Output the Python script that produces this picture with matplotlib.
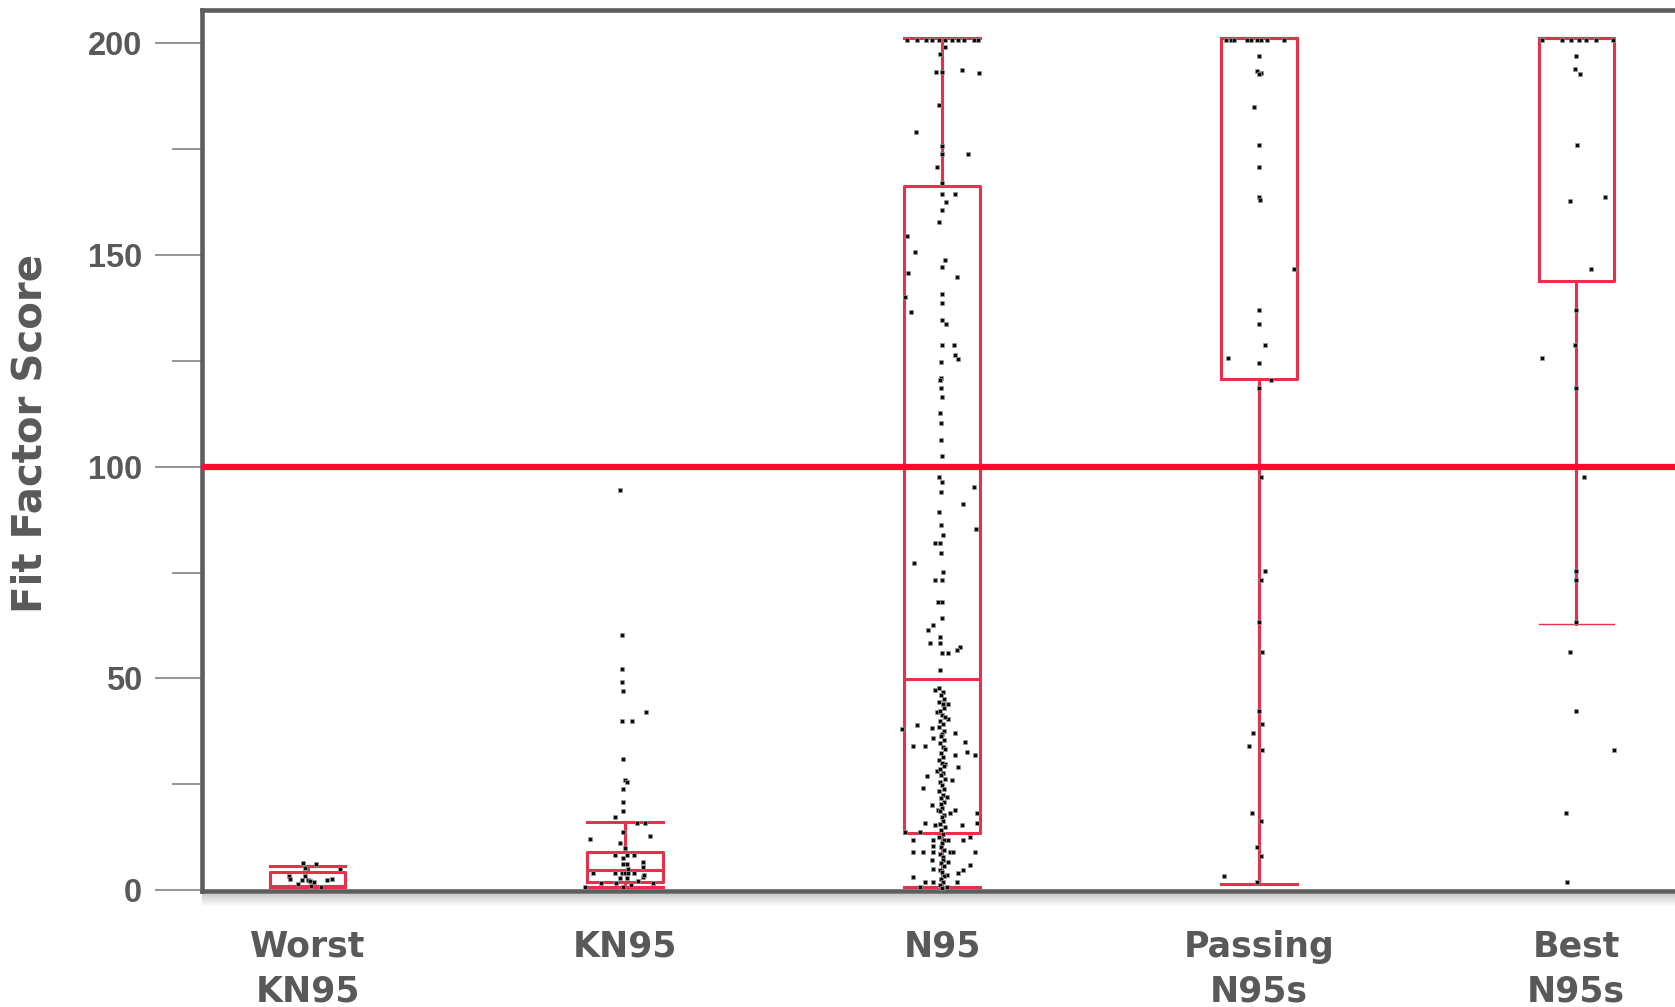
import matplotlib
matplotlib.use("Agg")
import matplotlib.pyplot as plt
from matplotlib.patches import Rectangle

# ---------------- data ----------------
categories = ["Worst\nKN95", "KN95", "N95", "Passing\nN95s", "Best\nN95s"]

y_major_ticks = [0, 50, 100, 150, 200]
y_minor_ticks = [25, 75, 125, 175]
pass_threshold = 100

# box statistics (whislo, q1, med, q3, whishi)
box_whislo = [0.6, 0.7, 0.7, 1.4, 62.8]
box_q1 = [0.8, 2.0, 13.5, 120.6, 143.8]
box_med = [1.0, 4.7, 49.8, 201.3, 201.3]
box_q3 = [4.3, 9.0, 166.2, 201.3, 201.3]
box_whishi = [5.7, 16.1, 201.3, 201.3, 201.3]

# individual fit-factor scores and their horizontal jitter (category units)
worst_vals = [6.3, 6.2, 5.1, 4.9, 3.4, 3.2, 2.5, 2.4, 2.3, 2.1, 1.9, 1.4, 1.0, 0.8, 2.4, 2.5]
worst_off = [-0.015, 0.025, -0.01, 0.10, -0.06, -0.01, -0.055, -0.02, 0.0, 0.006, 0.02, -0.03, 0.01, 0.04, 0.06, 0.075]

kn95_vals = [94.5, 60.2, 52.2, 49.1, 47.0, 42.0, 39.9, 39.9, 30.9, 26.0, 25.6, 23.8, 20.8, 18.7,
             17.2, 15.8, 15.8, 13.7, 12.8, 12.0, 11.1, 8.3, 8.3, 8.3, 7.6, 6.6, 6.1, 6.1, 5.5,
             4.1, 4.0, 4.0, 4.0, 4.0, 4.0, 3.1, 2.8, 2.8, 1.6, 1.6, 1.6, 0.7, 0.7, 1.2, 2.2,
             5.0, 9.8, 3.5]
kn95_off = [-0.016, -0.01, -0.01, -0.01, -0.005, 0.066, -0.01, 0.022, -0.005, 0.0, 0.005, -0.005,
            -0.005, -0.005, -0.03, 0.038, 0.063, -0.005, 0.08, -0.11, -0.016, -0.03, 0.005, 0.027,
            -0.005, 0.057, -0.005, 0.005, 0.057, -0.10, -0.03, -0.01, 0.0, 0.01, 0.027, 0.057,
            -0.016, 0.005, -0.074, -0.027, 0.09, -0.127, -0.005, 0.02, 0.04, 0.01, 0.0, 0.06]

n95_vals = [
    200.8, 200.8, 200.8, 200.8, 200.8, 200.8, 200.8, 200.8, 200.8, 200.8, 200.8,
    199.1, 197.6, 193.2, 193.2, 193.8, 192.9, 185.4, 179.0, 175.7, 173.8, 173.8, 170.8,
    166.9, 164.5, 164.5, 162.5, 160.6, 157.8, 154.6, 150.6, 148.8, 147.2, 145.7, 144.8,
    140.7, 140.1, 138.6, 136.6, 134.6, 133.6, 128.7, 128.7, 126.3, 125.4, 124.7, 120.9,
    120.4, 118.5, 116.4, 112.6, 110.3, 106.3, 102.5, 97.6, 96.4, 95.2, 94.1, 91.3, 89.3,
    86.2, 85.2, 83.8, 81.9, 81.9, 79.5, 77.3, 75.2, 73.2, 73.2, 68.1, 68.1, 64.2, 62.6,
    61.4, 59.8, 58.3, 58.3, 57.4, 56.6, 56.0, 56.0, 51.9,
    38.0, 39.0, 38.3, 37.1, 35.9, 35.0, 34.0, 34.0, 32.6, 31.9, 31.9, 29.1, 26.9, 26.0,
    24.1, 20.1, 18.9, 18.2, 18.2, 15.8, 15.8, 15.3, 15.3, 13.7, 13.7, 11.8, 11.8, 11.8,
    11.8, 12.6, 9.0, 9.0, 9.0, 9.0, 9.0, 9.0, 7.1, 5.9, 4.7, 4.0, 3.1, 1.9, 1.9, 1.9,
    10.5, 6.5, 5.0, 3.5, 0.8, 0.8, 47.2, 44.0, 42.0, 40.5, 29.8, 28.0, 22.0, 19.0,
    47.6, 46.8, 46.1, 45.2, 44.5, 43.9, 43.0, 42.3, 41.4, 40.8, 39.9, 39.3, 38.5, 37.6,
    36.9, 36.3, 35.4, 34.7, 33.8, 33.2, 32.3, 31.5, 30.8, 30.1, 29.2, 28.6, 27.7, 27.1,
    26.3, 25.4, 24.8, 23.9, 23.3, 22.4, 21.7, 20.8, 20.2, 19.3, 18.7, 17.8, 17.2, 16.3,
    15.6, 14.8, 14.1, 13.2, 12.4, 11.7, 11.0, 10.1, 9.5, 8.6, 7.9, 7.2, 6.3, 5.7, 4.8,
    4.2, 3.3, 2.7, 1.8, 1.1, 0.4]
n95_off = [
    -0.11, -0.08, -0.05, -0.03, -0.01, 0.01, 0.03, 0.05, 0.07, 0.10, 0.115,
    0.01, -0.005, -0.02, 0.0, 0.063, 0.117, -0.01, -0.082, 0.0, 0.0, 0.082, -0.016,
    0.0, 0.0, 0.041, 0.013, 0.0, -0.01, -0.11, -0.085, 0.01, 0.0, -0.107, 0.047,
    0.0, -0.117, 0.0, -0.098, 0.0, 0.013, 0.0, 0.038, 0.041, 0.049, -0.004, -0.004,
    -0.005, -0.004, 0.0, -0.006, -0.003, -0.004, 0.001, -0.01, 0.0, 0.101, -0.004, 0.067, -0.01,
    -0.003, 0.107, 0.002, -0.007, -0.022, -0.003, -0.088, 0.004, -0.022, -0.001, -0.013, 0.0, -0.001, -0.027,
    -0.043, -0.006, -0.038, -0.006, 0.057, 0.047, -0.001, 0.02, -0.006,
    -0.127, -0.080, -0.033, 0.041, -0.027, 0.073, -0.090, -0.054, 0.080, 0.104, 0.041, 0.052, -0.048, 0.030,
    -0.061, -0.033, 0.041, 0.025, 0.109, -0.054, 0.109, 0.062, -0.022, -0.117, -0.069, -0.090, -0.027, 0.020,
    0.067, 0.088, -0.090, -0.059, -0.027, 0.025, 0.036, 0.104, -0.033, 0.088, 0.067, 0.052, -0.090, -0.054, -0.027, 0.046,
    -0.027, 0.02, -0.027, 0.015, -0.069, 0.015, -0.022, 0.02, -0.017, 0.02, 0.01, -0.017, 0.015, -0.012,
    -0.008, 0.004, -0.003, 0.006, -0.01, 0.002, 0.007, -0.005, 0.0, 0.008, -0.006, 0.003, -0.009, 0.005,
    0.0, -0.004, 0.007, -0.007, 0.002, 0.009, -0.003, 0.004, -0.008, 0.001, 0.006, -0.005, 0.003, -0.002,
    0.008, -0.006, 0.0, 0.005, -0.009, 0.004, -0.002, 0.007, -0.004, 0.001, -0.007, 0.006, -0.001, 0.003,
    -0.005, 0.008, -0.003, 0.002, -0.008, 0.005, 0.0, -0.004, 0.007, -0.006, 0.002, 0.004, -0.002, 0.006, -0.007,
    0.001, 0.005, -0.004, 0.003, -0.006, 0.0]

pass_vals = [200.8, 200.8, 200.8, 200.8, 200.8, 200.8, 200.8, 200.8, 200.8,
             196.9, 193.5, 193.0, 192.7, 185.0, 176.0, 170.8, 163.7, 163.0, 146.7, 136.9,
             133.7, 128.7, 125.7, 124.6, 120.5, 118.5, 97.5, 75.3, 73.2, 63.2, 56.3, 42.3,
             39.2, 37.1, 34.1, 33.0, 18.2, 16.3, 10.2, 8.1, 3.4, 2.0]
pass_off = [-0.105, -0.089, -0.079, -0.037, -0.026, -0.005, 0.005, 0.026, 0.079,
            0.0, -0.005, 0.005, 0.0, -0.016, 0.0, 0.0, 0.0, 0.003, 0.110, 0.0,
            0.0, 0.019, -0.097, 0.0, 0.037, 0.0, 0.005, 0.018, 0.005, 0.0, 0.008, 0.0,
            0.008, -0.018, -0.032, 0.008, -0.023, 0.005, -0.007, 0.005, -0.11, -0.007]

best_vals = [200.8, 200.8, 200.8, 200.8, 200.8, 200.8, 200.8,
             196.9, 194.0, 192.8, 176.0, 163.7, 162.8, 146.7, 136.9, 128.7, 125.6, 118.7,
             97.5, 75.4, 73.2, 63.2, 56.3, 42.3, 33.1, 18.2, 2.0]
best_off = [-0.106, -0.043, -0.017, 0.009, 0.030, 0.062, 0.115,
            0.0, -0.003, 0.012, 0.002, 0.092, -0.019, 0.048, 0.0, -0.003, -0.106, 0.0,
            0.025, 0.0, 0.0, 0.0, -0.019, 0.0, 0.12, -0.033, -0.028]

point_vals = [worst_vals, kn95_vals, n95_vals, pass_vals, best_vals]
point_offs = [worst_off, kn95_off, n95_off, pass_off, best_off]

# ---------------- style ----------------
W, H = 1675, 1007
GRAY = "#5e5e5e"
TEXT = "#595959"
BOX_RED = "#e8304a"
LINE_RED = "#ff0a2e"

fig = plt.figure(figsize=(W / 100, H / 100), dpi=100)
ax_left = 201.7 / W
ax_bottom = (H - 891) / H
ax_top = (H - 9.5) / H
ax = fig.add_axes([ax_left, ax_bottom, 1 - ax_left, ax_top - ax_bottom])

# scatter points
for i, (vals, offs) in enumerate(zip(point_vals, point_offs)):
    xs = [i + o for o in offs]
    ax.scatter(xs, vals, marker="s", s=10, color="#0a0a0a", linewidths=0.5,
               edgecolors="#9a9a9a", zorder=3.5)

# boxes
stats = []
for i in range(len(categories)):
    stats.append(dict(med=box_med[i], q1=box_q1[i], q3=box_q3[i],
                      whislo=box_whislo[i], whishi=box_whishi[i], fliers=[]))
lp = dict(color=BOX_RED, linewidth=2.2)
res = ax.bxp(stats, positions=list(range(len(categories))), widths=0.237,
             capwidths=0.237, showfliers=False, boxprops=lp, whiskerprops=lp,
             capprops=lp, medianprops=lp, manage_ticks=False, zorder=3)
# thinner lower cap on the last box
res["caps"][8].set_linewidth(1.0)

# pass line
ax.axhline(pass_threshold, color=LINE_RED, linewidth=4.5, zorder=4)

ax.set_xlim(-0.335, 4.312)
ax.set_ylim(-0.24, 208.0)

# spines
for s in ["left", "bottom", "top"]:
    ax.spines[s].set_color(GRAY)
    ax.spines[s].set_linewidth(3.3)
ax.spines["right"].set_visible(False)

# ticks
ax.set_yticks(y_major_ticks)
ax.set_yticks(y_minor_ticks, minor=True)
ax.set_yticklabels([str(t) for t in y_major_ticks], fontfamily="Liberation Sans",
                   fontweight="bold", fontsize=23.5, color=TEXT)
ax.tick_params(axis="y", which="major", length=34, width=1.1, color="#777777", pad=9)
ax.tick_params(axis="y", which="minor", length=21.6, width=1.1, color="#777777")

ax.set_xticks(range(len(categories)))
ax.set_xticklabels(categories, fontfamily="DejaVu Sans", fontweight="bold",
                   fontsize=25, color=TEXT, linespacing=1.38)
ax.tick_params(axis="x", which="both", length=0, pad=28)

# shadow under bottom spine
for k in range(12):
    a = 0.38 * (1 - k / 12)
    fig.add_artist(Rectangle((ax_left, (H - 894 - k - 1) / H), 1 - ax_left, 1 / H,
                             transform=fig.transFigure, color="#7a7a7a", alpha=a,
                             linewidth=0, zorder=1))

fig.text(31 / W, 1 - 433 / H, "Fit Factor Score", rotation=90, ha="center", va="center",
         fontfamily="DejaVu Sans", fontweight="bold", fontsize=29, color=TEXT)

fig.savefig("out.png", dpi=100)
